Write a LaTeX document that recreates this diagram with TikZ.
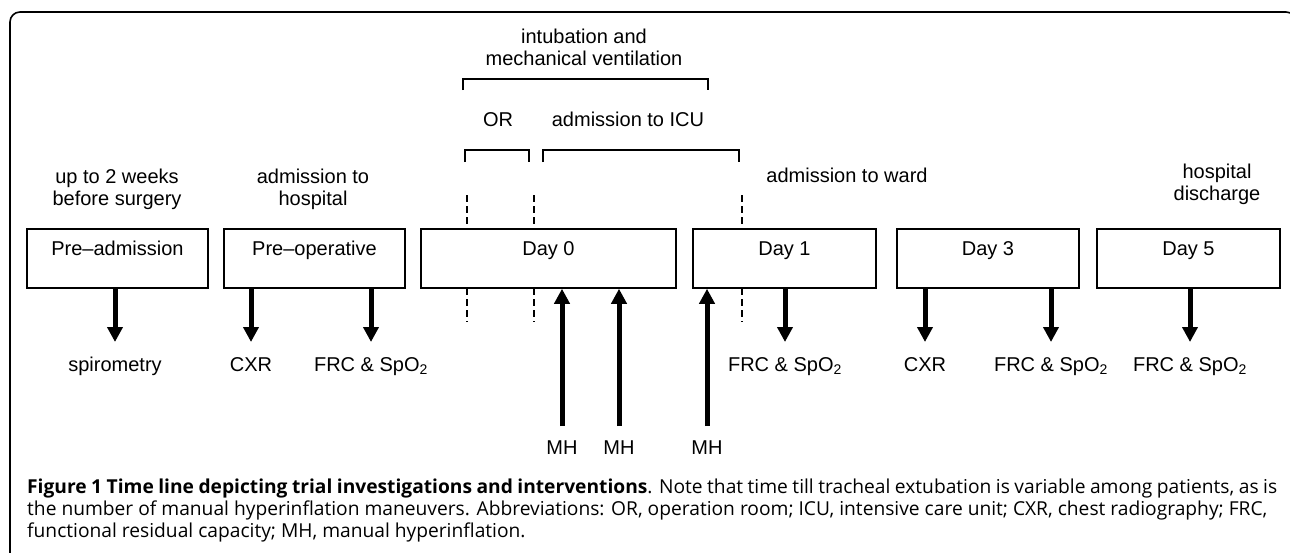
\documentclass[tikz,border=0pt]{standalone}
\usepackage{fontspec}
\setmainfont{Liberation Sans}
\newfontfamily\capfont{Open Sans}
\usetikzlibrary{arrows.meta,calc}
\begin{document}
\begin{tikzpicture}[x=1pt,y=-1pt,
  frame/.style={line width=1.6pt, rounded corners=10pt},
  box/.style={draw, line width=1.5pt, inner sep=0pt, minimum height=59pt},
  txt/.style={font=\fontsize{20}{22}\selectfont, align=center, inner sep=0pt},
  btxt/.style={txt, anchor=north, text height=14.5pt, text depth=4pt},
  dn/.style={line width=5pt, -{Triangle[width=15pt,length=15pt]}, shorten >=14.5pt},
  up/.style={line width=5pt, -{Triangle[width=15pt,length=15pt]}, shorten <=13.5pt},
  brk/.style={line width=1.5pt},
  dsh/.style={line width=1.8pt, dash pattern=on 7pt off 4pt},
  captxt/.style={font=\capfont\fontsize{19.2}{22}\selectfont, text width=1250pt, align=justify, inner sep=0pt, anchor=north west}
]
\clip (0,0) rectangle (1290,552);
\draw[frame] (10,620) -- (10,12) -- (1296,12) -- (1296,620);

% boxes
\node[box, minimum width=181pt] (b1) at (117.5,258.5) {};
\node[box, minimum width=181pt] (b2) at (314.5,258.5) {};
\node[box, minimum width=255pt] (b3) at (548.5,258.5) {};
\node[box, minimum width=183pt] (b4) at (784.5,258.5) {};
\node[box, minimum width=182pt] (b5) at (988,258.5) {};
\node[box, minimum width=183pt] (b6) at (1188.5,258.5) {};

\node[txt, anchor=base] (t1) at ([yshift=-27pt]b1.north) {Pre–admission};
\node[txt, anchor=base] (t2) at ([yshift=-27pt]b2.north) {Pre–operative};
\node[txt, anchor=base] (t3) at ([yshift=-27pt]b3.north) {Day 0};
\node[txt, anchor=base] (t4) at ([yshift=-27pt]b4.north) {Day 1};
\node[txt, anchor=base] (t5) at ([yshift=-27pt]b5.north) {Day 3};
\node[txt, anchor=base] (t6) at ([yshift=-27pt]b6.north) {Day 5};

% top labels
\node[txt] (h1) at (117,189) {up to 2 weeks\\before surgery};
\node[txt] (h2) at (313,189) {admission to\\hospital};
\node[txt, anchor=base] (h3) at (847,182) {admission to ward};
\node[txt] (h4) at (1217,184) {hospital\\discharge};
\node[txt] (h5) at (584,47) {intubation and\\mechanical ventilation};
\node[txt, anchor=base] (h6) at (498,126) {OR};
\node[txt, anchor=base] (h7) at (628,126) {admission to ICU};

% brackets
\coordinate (k1a) at (463,90); \coordinate (k1b) at (708,90);
\draw[brk] (k1a) -- (463,79) -- (708,79) -- (k1b);
\coordinate (k2a) at (465,162); \coordinate (k2b) at (529,162);
\draw[brk] (k2a) -- (465,150) -- (529,150) -- (k2b);
\coordinate (k3a) at (543,162); \coordinate (k3b) at (739,162);
\draw[brk] (k3a) -- (543,150) -- (739,150) -- (k3b);

% dashed markers
\foreach \xx [count=\i] in {467,534,742}{
  \coordinate (dA\i) at (\xx,195);
  \coordinate (dB\i) at (\xx,322);
  \draw[dsh] (dA\i) -- (\xx,229);
  \draw[dsh] (\xx,288) -- (dB\i);
}

% bottom labels
\node[btxt] (l1) at (115,356.5) {spirometry};
\node[btxt] (l2) at (251,356.5) {CXR};
\node[btxt] (l3) at (371,356.5) {FRC \& SpO\textsubscript{2}};
\node[btxt] (l4) at (785,356.5) {FRC \& SpO\textsubscript{2}};
\node[btxt] (l5) at (925,356.5) {CXR};
\node[btxt] (l6) at (1051,356.5) {FRC \& SpO\textsubscript{2}};
\node[btxt] (l7) at (1190,356.5) {FRC \& SpO\textsubscript{2}};

\draw[dn] (l1.north |- b1.south) -- (l1.north);
\draw[dn] (l2.north |- b2.south) -- (l2.north);
\draw[dn] (l3.north |- b2.south) -- (l3.north);
\draw[dn] (l4.north |- b4.south) -- (l4.north);
\draw[dn] (l5.north |- b5.south) -- (l5.north);
\draw[dn] (l6.north |- b5.south) -- (l6.north);
\draw[dn] (l7.north |- b6.south) -- (l7.north);

% MH
\node[btxt] (m1) at (562,439.5) {MH};
\node[btxt] (m2) at (619,439.5) {MH};
\node[btxt] (m3) at (707,439.5) {MH};
\draw[up] (m1.north) -- (m1.north |- b3.south);
\draw[up] (m2.north) -- (m2.north |- b3.south);
\draw[up] (m3.north) -- (m3.north |- b4.south);

% caption
\node[captxt] (cap) at (27,479) {\textbf{Figure 1 Time line depicting trial investigations and interventions}. Note that time till tracheal extubation is variable among patients, as is\linebreak
the number of manual hyperinflation maneuvers. Abbreviations: OR, operation room; ICU, intensive care unit; CXR, chest radiography; FRC,\newline
functional residual capacity; MH, manual hyperinflation.};
\end{tikzpicture}
\end{document}
